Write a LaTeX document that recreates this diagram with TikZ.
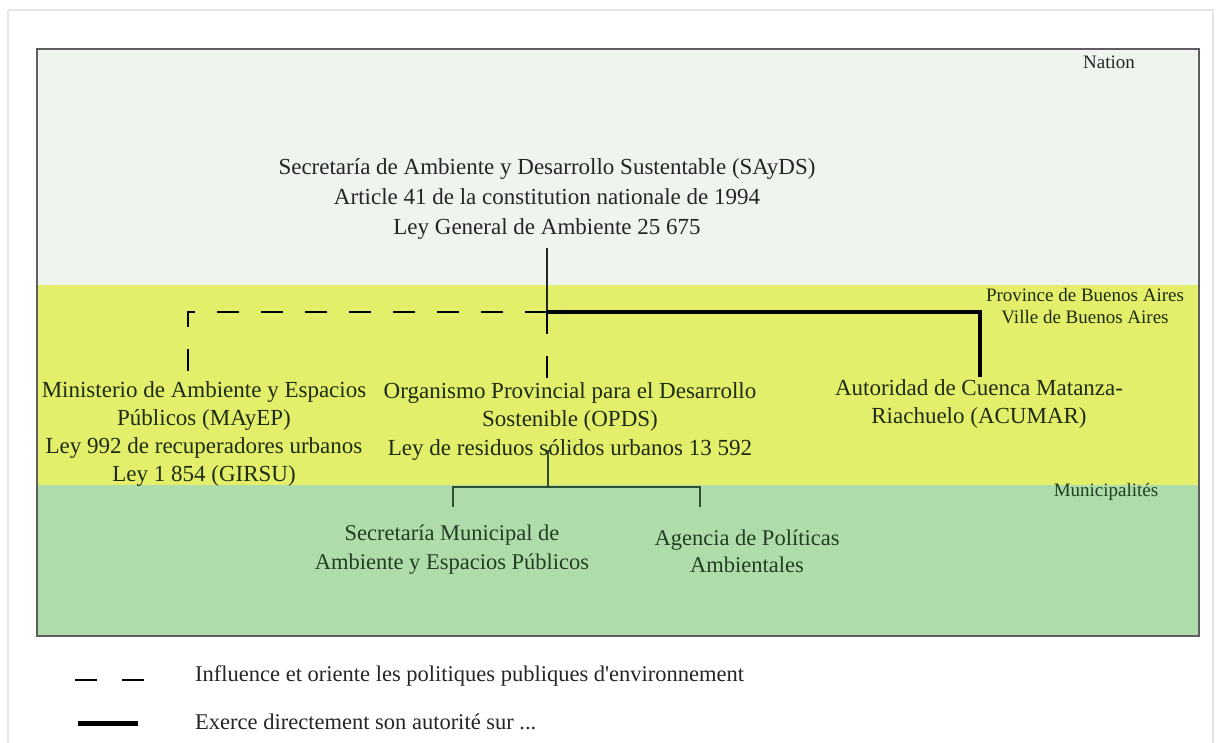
\documentclass[tikz,border=0pt]{standalone}
\usepackage{fontspec}
\setmainfont{Liberation Serif}
\newfontfamily\legfont[Ligatures=TeXOff]{Liberation Serif}
\definecolor{nationbg}{HTML}{EFF5EE}
\definecolor{provbg}{HTML}{E3EE6A}
\definecolor{munibg}{HTML}{AEDCAA}
\definecolor{framegray}{HTML}{5E5E5E}
\definecolor{txtdark}{HTML}{252525}
\definecolor{txtolive}{HTML}{1F2A12}
\definecolor{txtgreen}{HTML}{233F23}
\definecolor{linegreen}{HTML}{2E4F2E}
\begin{document}
\begin{tikzpicture}[x=1pt,y=-1pt,
  body/.style={align=center,inner sep=2pt,font=\fontsize{23}{29}\selectfont},
  bandlabel/.style={align=center,inner sep=1pt,font=\fontsize{19}{22}\selectfont},
  legendtext/.style={anchor=west,inner sep=0pt,font=\legfont\fontsize{22.5}{24}\selectfont,text=txtdark},
  influence/.style={line width=1.6pt,dash pattern=on 22pt off 22pt},
  authority/.style={line width=4.5pt},
  thinlink/.style={line width=1.3pt,draw=txtdark},
  munilink/.style={line width=2pt,draw=linegreen}]
\useasboundingbox (0,0) rectangle (1218,742);
\fill[white] (0,0) rectangle (1218,742);
% faint outer frame
\draw[black!10,line width=1.5pt] (8,10) -- (1213,10) -- (1213,760);
\draw[black!10,line width=1.5pt] (8,10) -- (8,760);
% bands
\fill[nationbg] (37,49) rectangle (1199,285);
\fill[provbg] (37,285) rectangle (1199,485);
\fill[munibg] (37,485) rectangle (1199,636);
\draw[framegray,line width=2.6pt] (37,49) rectangle (1199,636);
% band labels
\node[bandlabel,text=txtdark] (nation) at (1109,62) {Nation};
\node[bandlabel,text=txtolive] (prov) at (1085,306) {Province de Buenos Aires\\Ville de Buenos Aires};
\node[bandlabel,text=txtgreen] (muni) at (1106,492) {Municipalités};
% main nodes
\node[body,text=txtdark,font=\fontsize{23}{30}\selectfont] (sayds) at (547,199) {Secretaría de Ambiente y Desarrollo Sustentable (SAyDS)\\Article 41 de la constitution nationale de 1994\\Ley General de Ambiente 25 675};
\node[body,text=txtolive,font=\fontsize{23}{27.7}\selectfont] (mayep) at (204,434) {Ministerio de Ambiente y Espacios\\Públicos (MAyEP)\\Ley 992 de recuperadores urbanos\\Ley 1 854 (GIRSU)};
\node[body,text=txtolive,font=\fontsize{23}{28.5}\selectfont] (opds) at (570,421) {Organismo Provincial para el Desarrollo\\Sostenible (OPDS)\\Ley de residuos sólidos urbanos 13 592};
\node[body,text=txtolive,font=\fontsize{23}{28}\selectfont] (acumar) at (979,404) {Autoridad de Cuenca Matanza-\\Riachuelo (ACUMAR)};
\node[body,text=txtgreen,font=\fontsize{22.5}{29}\selectfont] (secmun) at (452,550) {Secretaría Municipal de\\Ambiente y Espacios Públicos};
\node[body,text=txtgreen,font=\fontsize{22.5}{27}\selectfont] (agencia) at (747,551) {Agencia de Políticas\\Ambientales};
% junction coordinates
\coordinate (J) at (547,312);
\coordinate (L) at (188,312);
\coordinate (M) at (980,312);
\coordinate (S0) at (547,248);
\coordinate (O0) at (548,450);
\coordinate (K) at (548,487);
\coordinate (K1) at (453,487);
\coordinate (K2) at (700,487);
\coordinate (E1) at (453,507);
\coordinate (E2) at (700,507);
% connectors
\draw[thinlink] (S0) -- (J);
\draw[influence] (J) -- (L) -- (L |- mayep.north);
\draw[influence] (J) -- (J |- opds.north);
\draw[authority] (J) -- (M) -- (M |- acumar.north);
\draw[munilink] (O0) -- (K);
\draw[munilink] (E1) -- (K1) -- (K2) -- (E2);
% legend
\coordinate (la1) at (75,680);
\coordinate (la2) at (146,680);
\coordinate (lb1) at (78,723);
\coordinate (lb2) at (138,723);
\draw[line width=1.6pt,dash pattern=on 22pt off 25pt] (la1) -- (la2);
\draw[line width=5pt] (lb1) -- (lb2);
\node[legendtext] (leg1) at (195,676) {Influence et oriente les politiques publiques d'environnement};
\node[legendtext] (leg2) at (195,722) {Exerce directement son autorité sur ...};
\end{tikzpicture}
\end{document}
